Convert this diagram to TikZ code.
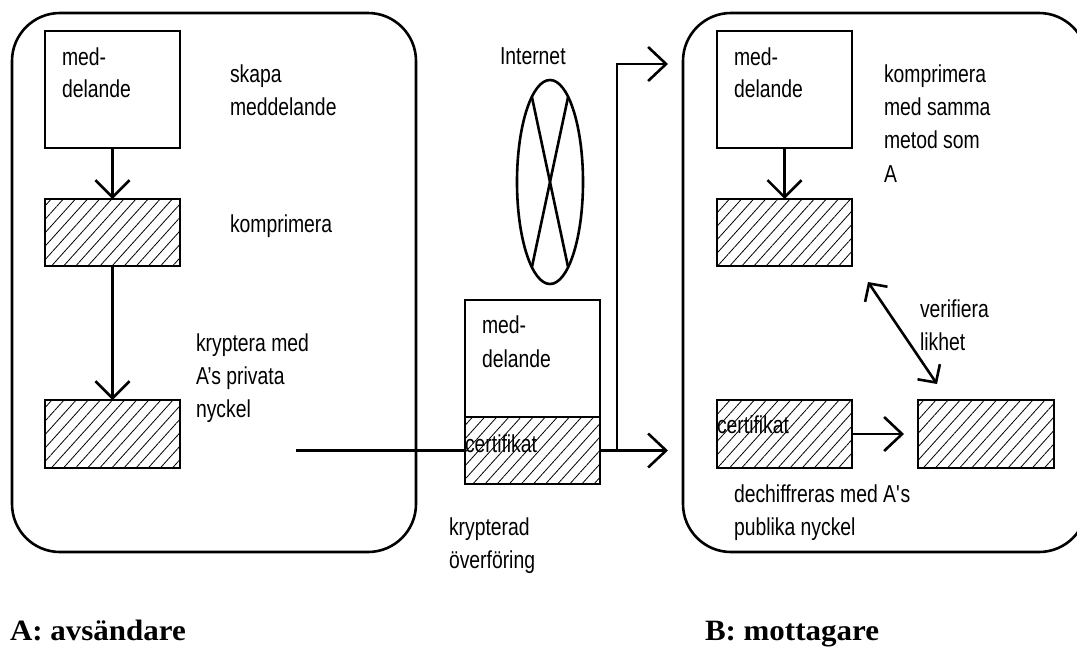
\documentclass[tikz,border=0pt]{standalone}
\usepackage{fontspec}
\setmainfont[FakeStretch=0.79]{Liberation Sans}
\newfontfamily\lblfont[FakeStretch=1.05]{Liberation Serif}
\usetikzlibrary{shapes.geometric,arrows.meta,patterns.meta}
\begin{document}
\begin{tikzpicture}[x=1pt,y=-1pt,
  every node/.style={outer sep=0pt},
  frame/.style={draw,line width=2.6pt,rounded corners=48pt},
  plainbox/.style={draw,line width=2.6pt,minimum width=135pt,inner sep=0pt},
  hatchbox/.style={plainbox,minimum height=67pt,pattern={Lines[angle=48,distance=9pt,line width=0.8pt]}},
  txt/.style={anchor=base west,inner sep=0pt,font=\fontsize{24.5}{33}\selectfont},
  lbl/.style={anchor=base west,inner sep=0pt,font=\lblfont\bfseries\fontsize{29.5}{34}\selectfont},
  conn/.style={line width=2.6pt},
  vtip/.style={-{Straight Barb[length=17pt,width=34pt]}},
  htip/.style={-{Straight Barb[length=18pt,width=34pt]}},
  dtip/.style={{Straight Barb[length=13pt,width=27pt]}-{Straight Barb[length=13pt,width=27pt]}}
]
\useasboundingbox (0,0) rectangle (1077,646);
\clip (0,0) rectangle (1077,646);

% frames
\draw[frame] (12,13) rectangle (416,552);
\draw[frame] (683,13) rectangle (1087,552);

% left side boxes
\node[plainbox,minimum height=117pt] (lmsg) at (112.5,89.5) {};
\node[hatchbox] (lcomp) at (112.5,232.5) {};
\node[hatchbox,minimum height=68pt] (lenc) at (112.5,434) {};

% middle
\node[draw,ellipse,line width=2.6pt,minimum width=66pt,minimum height=204pt,inner sep=0pt] (net) at (550,182) {};
\draw[conn] (net.102) -- (net.282);
\draw[conn] (net.78) -- (net.258);
\node[plainbox,minimum height=117pt] (mmsg) at (532.5,358.5) {};
\node[hatchbox] (mcert) at (532.5,450.5) {};

% right side boxes
\node[plainbox,minimum height=117pt] (rmsg) at (784.5,89.5) {};
\node[hatchbox] (rcomp) at (784.5,232.5) {};
\node[hatchbox,minimum height=68pt] (rcert) at (784.5,434) {};
\node[hatchbox,minimum height=68pt,minimum width=136pt] (rres) at (986,434) {};

% connectors
\draw[conn,vtip] (lmsg.south) -- (lcomp.north);
\draw[conn,vtip] (lcomp.south) -- (lenc.north);
\coordinate (src) at (296,450.5);
\coordinate (tipB) at (668,450.5);
\coordinate (bend) at (617,64);
\coordinate (tipT) at (668,64);
\draw[conn] (src) -- (mcert.west);
\draw[conn,htip] (mcert.east) -- (tipB);
\draw[conn,htip] (bend |- tipB) -- (bend) -- (tipT);
\draw[conn,vtip] (rmsg.south) -- (rcomp.north);
\coordinate (tipC) at (904,434);
\draw[conn,htip] (rcert.east) -- (tipC);
\coordinate (va) at (868,282);
\coordinate (vb) at (937,384);
\draw[conn,dtip] (va) -- (vb);

% left texts
\node[txt] (t1) at (62,65) {med-};
\node[txt] (t2) at (62,97) {delande};
\node[txt] (t3) at (230,82) {skapa};
\node[txt] (t4) at (230,115) {meddelande};
\node[txt] (t5) at (230,232) {komprimera};
\node[txt] (t6) at (196,351) {kryptera med};
\node[txt] (t7) at (196,384) {A’s privata};
\node[txt] (t8) at (196,417) {nyckel};

% middle texts
\node[txt] (t9) at (500,64) {Internet};
\node[txt] (t10) at (482,333) {med-};
\node[txt] (t11) at (482,367) {delande};
\node[txt] (t12) at (465,452) {certifikat};
\node[txt] (t13) at (449,535) {krypterad};
\node[txt] (t14) at (449,568) {överföring};

% right texts
\node[txt] (t15) at (734,65) {med-};
\node[txt] (t16) at (734,97) {delande};
\node[txt] (t17) at (884,82) {komprimera};
\node[txt] (t18) at (884,115) {med samma};
\node[txt] (t19) at (884,148) {metod som};
\node[txt] (t20) at (884,182) {A};
\node[txt] (t21) at (920,317) {verifiera};
\node[txt] (t22) at (920,350) {likhet};
\node[txt] (t23) at (717,433) {certifikat};
\node[txt] (t24) at (734,502) {dechiffreras med A\textquotesingle s};
\node[txt] (t25) at (734,535) {publika nyckel};

% bottom labels
\node[lbl] (la) at (10,640) {A: avsändare};
\node[lbl] (lb) at (705,640) {B: mottagare};
\end{tikzpicture}
\end{document}
